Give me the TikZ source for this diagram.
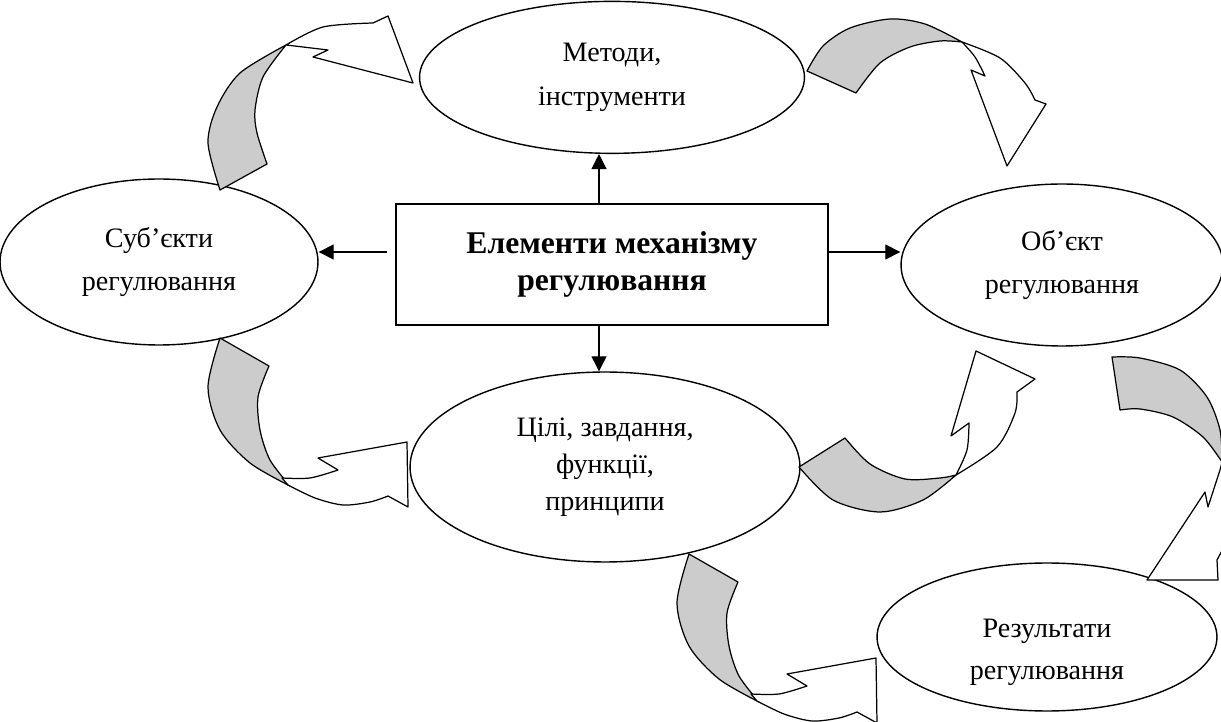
\documentclass[tikz,border=0pt]{standalone}
\usepackage{fontspec}
\setmainfont{Liberation Serif}
\usetikzlibrary{shapes.geometric, arrows.meta, positioning}

\begin{document}
\begin{tikzpicture}[
    x=0.02cm, y=-0.02cm,
    font=\fontsize{16}{21}\selectfont,
    oval/.style={draw, ellipse, line width=0.8pt, inner sep=0pt, align=center},
    box/.style={draw, line width=1.1pt, minimum width=8.64cm, minimum height=2.42cm, align=center, font=\fontsize{18}{21}\selectfont\bfseries},
    arr/.style={-{Triangle[length=0.3cm, width=0.3cm]}, line width=0.7pt},
    back/.style={draw, fill=black!20, line width=0.7pt, line join=round},
    front/.style={draw, fill=white, line width=0.7pt, line join=round}
]
    \useasboundingbox (0,0) rectangle (1221,722);
    \clip (0,0) rectangle (1221,722);

    \node[box] (box) at (612,264.5) {Елементи механізму\\регулювання};
    \node[oval, above=0.98cm of box, minimum width=7.7cm, minimum height=3.04cm] (meth) {Методи,\\[4pt]інструменти};
    \node[oval, minimum width=6.36cm, minimum height=3.32cm] (subj) at (159,262) {Суб’єкти\\[3pt]регулювання};
    \node[oval, minimum width=6.44cm, minimum height=3.24cm] (obj) at (1062,265) {Об’єкт\\[3pt]регулювання};
    \node[oval, minimum width=7.8cm, minimum height=3.8cm] (goals) at (605,467) {Цілі, завдання,\\функції,\\принципи};
    \node[oval, minimum width=6.8cm, minimum height=2.96cm] (res) at (1047,637) {};
    \node[align=center] (restxt) at ([yshift=-0.3cm]res.center) {Результати\\[3pt]регулювання};

    % straight arrows from the box
    \coordinate (l) at ([shift={(-0.16cm,0.25cm)}]box.west);
    \coordinate (r) at ([yshift=0.25cm]box.east);
    \draw[arr] ([xshift=-0.26cm]box.north) -- ([xshift=-0.26cm]box.north |- meth.south);
    \draw[arr] ([xshift=-0.26cm]box.south) -- ([xshift=-0.26cm]box.south |- goals.north);
    \draw[arr] (l) -- (subj.east |- l);
    \draw[arr] (r) -- (obj.west |- r);

    % curved arrows: subjects -> methods
    \path[back] (220,190) -- (267,164) -- plot[smooth] coordinates {(267,164) (257,133) (255,110) (263,77) (286,45)}
        -- plot[smooth] coordinates {(286,45) (240,73) (217,107) (208,143) (220,190)} -- cycle;
    \path[front] plot[smooth] coordinates {(286,45) (323,27) (373,23)} -- (388,16) -- (413,83) -- (313,57) -- (328,50)
        -- plot[smooth] coordinates {(328,50) (303,47) (286,45)} -- cycle;

    % methods -> object
    \path[back] (807,71) -- (856,93) -- plot[smooth] coordinates {(856,93) (880,63) (910,47) (940,41) (962,42)}
        -- plot[smooth] coordinates {(962,42) (925,24) (890,19) (850,28) (823,46) (807,71)} -- cycle;
    \path[front] plot[smooth] coordinates {(962,42) (1000,58) (1025,83) (1035,100)} -- (1046,104) -- (1007,166) -- (971,70) -- (985,76)
        -- plot[smooth] coordinates {(985,76) (975,57) (962,42)} -- cycle;

    % subjects -> goals
    \path[back] (220,338) -- (269,366) -- plot[smooth] coordinates {(269,366) (258,397) (260,430) (270,460) (290,486)}
        -- plot[smooth] coordinates {(290,486) (250,463) (220,430) (208,387) (220,338)} -- cycle;
    \path[front] plot[smooth] coordinates {(288,485) (315,498) (343,505) (370,502) (388,496)} -- (408,507) -- (407,442) -- (318,458) -- (338,470)
        -- plot[smooth] coordinates {(338,470) (310,478) (282,478)} -- cycle;

    % goals -> object
    \path[back] (799,467) -- (845,438) -- plot[smooth] coordinates {(845,438) (870,464) (905,479) (940,478) (956,475)}
        -- plot[smooth] coordinates {(956,475) (923,500) (880,512) (833,500) (799,467)} -- cycle;
    \path[front] plot[smooth] coordinates {(956,475) (997,447) (1015,413) (1017,392)} -- (1035,379) -- (976,351) -- (951,436) -- (969,423)
        -- plot[smooth] coordinates {(969,423) (967,450) (956,475)} -- cycle;

    % object -> results
    \path[back] (1112,357) -- (1120,410) -- plot[smooth] coordinates {(1120,410) (1140,409) (1173,417) (1203,437) (1222,462)}
        -- plot[smooth] coordinates {(1222,462) (1220,430) (1207,397) (1180,370) (1140,358) (1112,357)} -- cycle;
    \path[front] (1222,462) -- (1220,470) -- (1208,507) -- (1205,492) -- (1147,580) -- (1218,580) -- (1217,560) -- (1225,545)
        -- (1240,540) -- (1240,470) -- cycle;

    % goals -> results
    \path[back] (689,554) -- (738,582) -- plot[smooth] coordinates {(738,582) (727,613) (729,646) (739,676) (759,702)}
        -- plot[smooth] coordinates {(759,702) (719,679) (689,646) (677,603) (689,554)} -- cycle;
    \path[front] plot[smooth] coordinates {(757,701) (784,714) (812,721) (839,718) (857,712)} -- (877,723) -- (876,658) -- (787,674) -- (807,686)
        -- plot[smooth] coordinates {(807,686) (779,694) (751,694)} -- cycle;
\end{tikzpicture}
\end{document}
